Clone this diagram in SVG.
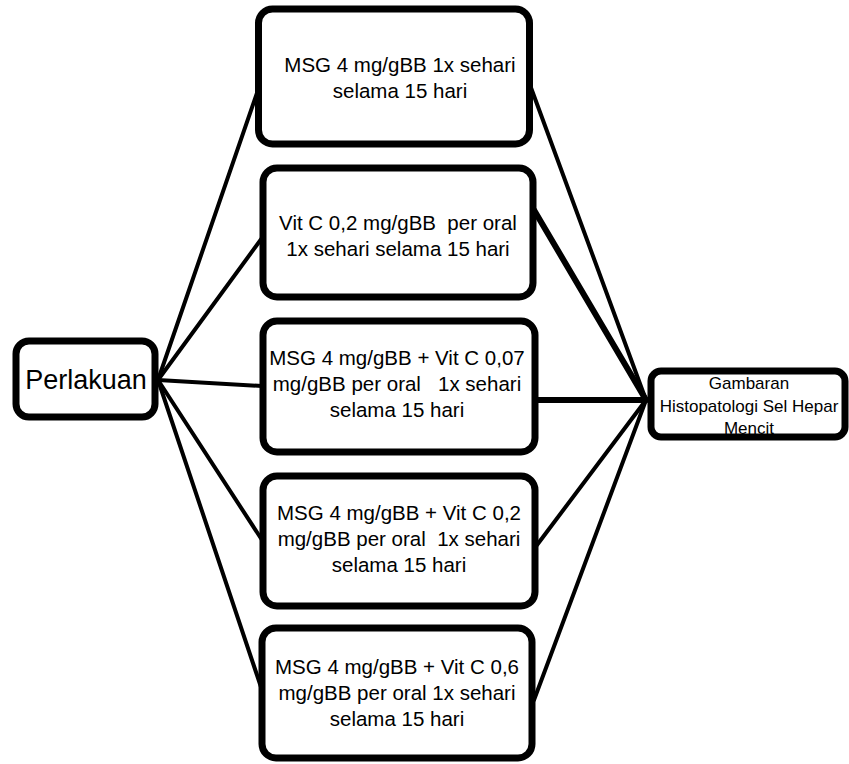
<svg xmlns="http://www.w3.org/2000/svg" width="849" height="764" viewBox="0 0 849 764">
<style>
.box{fill:#fff;stroke:#000;stroke-width:7}
.t{font-family:"Liberation Sans",Arial,sans-serif;font-size:20.5px;text-anchor:middle;fill:#000;white-space:pre}
.s{font-size:17px}
.c{stroke:#000;stroke-width:4;fill:none;stroke-linecap:round}
.ck{stroke:#000;stroke-width:6;fill:none;stroke-linecap:round}
</style>
<rect width="849" height="764" fill="#fff"/>
<g id="connectors">
<line class="c" x1="158" y1="380" x2="258" y2="90"/>
<line class="c" x1="158" y1="380" x2="262" y2="238"/>
<line class="c" x1="158" y1="380" x2="262" y2="386"/>
<line class="c" x1="158" y1="380" x2="262" y2="540"/>
<line class="c" x1="158" y1="380" x2="262" y2="690"/>
<line class="c" x1="530" y1="85" x2="646" y2="400"/>
<line class="ck" x1="534" y1="210" x2="646" y2="400"/>
<line class="ck" x1="537" y1="400" x2="646" y2="400"/>
<line class="c" x1="537" y1="545" x2="646" y2="400"/>
<line class="c" x1="534" y1="700" x2="646" y2="400"/>
</g>
<g id="perlakuan">
<rect class="box" x="16" y="341" width="139" height="76" rx="13"/>
<text class="t" x="86" y="389" style="font-size:27px">Perlakuan</text>
</g>
<g id="box1">
<rect class="box" x="258.5" y="9" width="271" height="135" rx="14"/>
<text class="t" x="400" y="72">MSG 4 mg/gBB 1x sehari</text>
<text class="t" x="400" y="98">selama 15 hari</text>
</g>
<g id="box2">
<rect class="box" x="263" y="168" width="270" height="129" rx="14"/>
<text class="t" x="398" y="230">Vit C 0,2 mg/gBB  per oral</text>
<text class="t" x="398" y="256">1x sehari selama 15 hari</text>
</g>
<g id="box3">
<rect class="box" x="263" y="321" width="272" height="131" rx="14"/>
<text class="t" x="397" y="365">MSG 4 mg/gBB + Vit C 0,07</text>
<text class="t" x="397" y="391">mg/gBB per oral   1x sehari</text>
<text class="t" x="397" y="417">selama 15 hari</text>
</g>
<g id="box4">
<rect class="box" x="263" y="476" width="272" height="130" rx="14"/>
<text class="t" x="399" y="520">MSG 4 mg/gBB + Vit C 0,2</text>
<text class="t" x="399" y="546">mg/gBB per oral  1x sehari</text>
<text class="t" x="399" y="572">selama 15 hari</text>
</g>
<g id="box5">
<rect class="box" x="262" y="628" width="270" height="130" rx="14"/>
<text class="t" x="397" y="674">MSG 4 mg/gBB + Vit C 0,6</text>
<text class="t" x="397" y="700">mg/gBB per oral 1x sehari</text>
<text class="t" x="397" y="726">selama 15 hari</text>
</g>
<g id="gambaran">
<rect class="box" x="651" y="371" width="194" height="66" rx="10"/>
<text class="t s" x="749" y="389">Gambaran</text>
<text class="t s" x="749" y="412">Histopatologi Sel Hepar</text>
<text class="t s" x="749" y="434">Mencit</text>
</g>
</svg>
